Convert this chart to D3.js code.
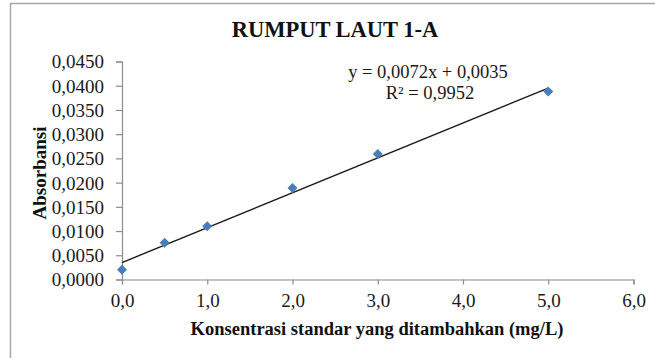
<!DOCTYPE html>
<html>
<head>
<meta charset="utf-8">
<script src="https://cdn.jsdelivr.net/npm/d3@7"></script>
<style>
  body { margin: 0; background: #fff; }
  svg { display: block; font-family: "Liberation Serif", "Times New Roman", serif; }
</style>
</head>
<body>
<svg id="chart" width="655" height="358"></svg>
<script>
// data
var konsentrasi = [0, 0.5, 1, 2, 3, 5];
var absorbansi = [0.0020, 0.0076, 0.0110, 0.0189, 0.0259, 0.0388];
var slope = 0.0072, intercept = 0.0035;
var xTicks = [0, 1, 2, 3, 4, 5, 6];
var yTicks = [0, 0.005, 0.01, 0.015, 0.02, 0.025, 0.03, 0.035, 0.04, 0.045];

var svg = d3.select("#chart");

var x = d3.scaleLinear().domain([0, 6]).range([122, 633.5]);
var y = d3.scaleLinear().domain([0, 0.045]).range([279.5, 61.5]);

var comma = function(n, d) { return n.toFixed(d).replace(".", ","); };

// outer frame (only top + left visible)
svg.append("path")
    .attr("d", "M10.5,358 V3.5 H655")
    .attr("fill", "none")
    .style("stroke", "#a6a6a6")
    .style("stroke-width", 1.5);

// axes
var xAxis = svg.append("g")
    .attr("transform", "translate(0," + y(0) + ")")
    .call(d3.axisBottom(x).tickValues(xTicks).tickSize(5).tickPadding(9)
        .tickFormat(function(d){ return comma(d, 1); }));
var yAxis = svg.append("g")
    .attr("transform", "translate(" + x(0) + ",0)")
    .call(d3.axisLeft(y).tickValues(yTicks).tickSize(6).tickPadding(12)
        .tickFormat(function(d){ return comma(d, 4); }));

[xAxis, yAxis].forEach(function(g){
    g.select(".domain").style("stroke", "#8c8c8c").style("stroke-width", 1.2);
    g.selectAll(".tick line").style("stroke", "#8c8c8c").style("stroke-width", 1.2);
    g.selectAll("text")
        .style("font-family", "Liberation Serif, serif")
        .style("font-size", "19px")
        .style("fill", "#1a1a1a");
});
yAxis.selectAll("text").attr("dy", "0.34em");

// trend line
var line = d3.line()
    .x(function(d){ return x(d); })
    .y(function(d){ return y(slope * d + intercept); });
svg.append("path")
    .datum([0, 5])
    .attr("d", line)
    .attr("fill", "none")
    .style("stroke", "#1a1a1a")
    .style("stroke-width", 1.4);

// diamonds
svg.append("g")
    .selectAll("path")
    .data(konsentrasi)
    .enter()
    .append("path")
    .attr("d", d3.symbol().type(d3.symbolDiamond2).size(64))
    .attr("transform", function(d, i){ return "translate(" + x(d) + "," + y(absorbansi[i]) + ")"; })
    .style("fill", "#4a7ebb");

// title
svg.append("text")
    .attr("x", 335)
    .attr("y", 37)
    .attr("text-anchor", "middle")
    .style("font-weight", "bold")
    .style("font-size", "22.5px")
    .style("fill", "#111")
    .text("RUMPUT LAUT 1-A");

// equation
svg.append("text")
    .attr("x", 428)
    .attr("y", 78)
    .attr("text-anchor", "middle")
    .style("font-size", "18.5px")
    .style("fill", "#1a1a1a")
    .text("y = " + comma(slope, 4) + "x + " + comma(intercept, 4));
svg.append("text")
    .attr("x", 430)
    .attr("y", 99)
    .attr("text-anchor", "middle")
    .style("font-size", "18.5px")
    .style("fill", "#1a1a1a")
    .text("R² = 0,9952");

// axis titles
svg.append("text")
    .attr("x", 377)
    .attr("y", 335)
    .attr("text-anchor", "middle")
    .style("font-weight", "bold")
    .style("font-size", "18.5px")
    .style("fill", "#111")
    .text("Konsentrasi standar yang ditambahkan (mg/L)");
svg.append("text")
    .attr("transform", "translate(46,173) rotate(-90)")
    .attr("text-anchor", "middle")
    .style("font-weight", "bold")
    .style("font-size", "19px")
    .style("fill", "#111")
    .text("Absorbansi");
</script>
</body>
</html>
